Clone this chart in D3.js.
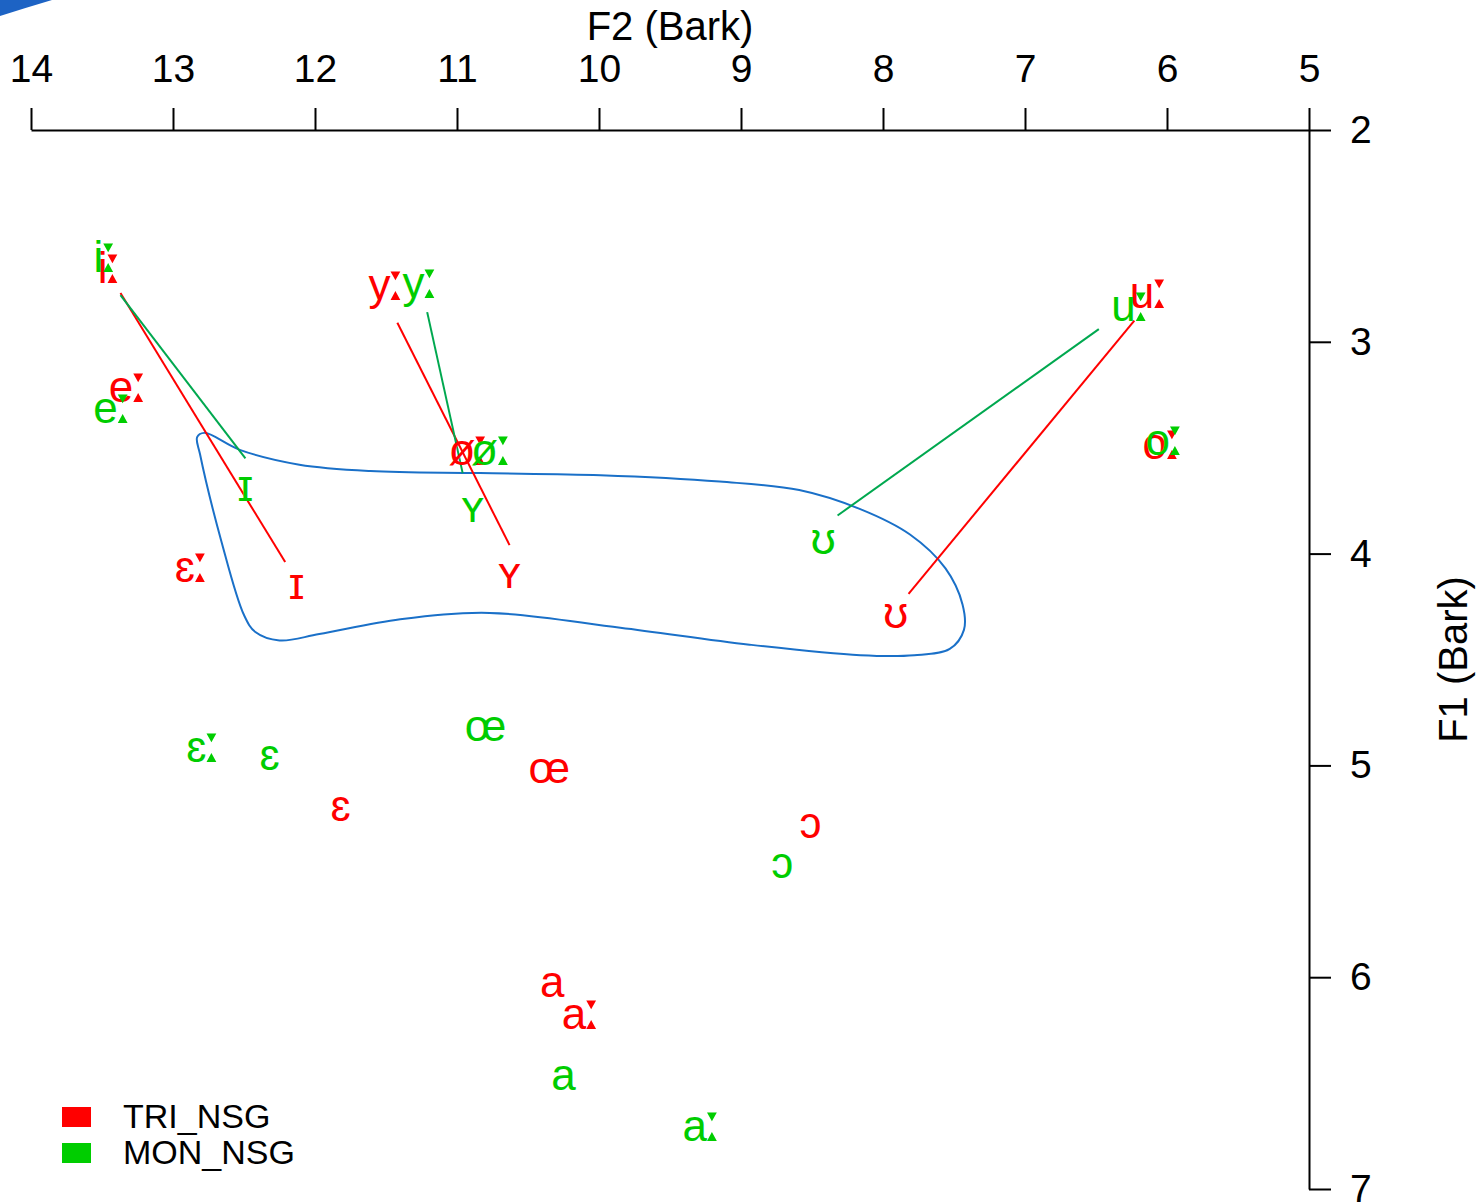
<!DOCTYPE html>
<html>
<head>
<meta charset="utf-8">
<script src="https://cdn.jsdelivr.net/npm/d3@7"></script>
<style>
  html, body { margin: 0; padding: 0; background: #fff; }
  svg { display: block; }
  text { font-family: "Liberation Sans", Arial, "DejaVu Sans", sans-serif; }
</style>
</head>
<body>
<div id="chart"></div>
<script>
// ---- data (Bark) ----
const vowels = ["iː", "eː", "ɛː", "ɪ", "yː", "øː", "ʏ", "ʊ", "uː", "oː", "ɛ", "œ", "ɔ", "a", "aː"];

const triF2 = [13.44, 13.31, 12.86, 12.13, 11.49, 10.91, 10.63, 7.91, 6.12, 6.03, 11.82, 10.35, 8.51, 10.33, 10.12];
const triF1 = [2.65, 3.21, 4.06, 4.14, 2.73, 3.51, 4.09, 4.28, 2.77, 3.48, 5.19, 5.01, 5.27, 6.02, 6.17];

const monF2 = [13.47, 13.42, 12.78, 12.49, 11.25, 10.75, 10.89, 8.42, 6.25, 6.01, 12.32, 10.80, 8.71, 10.25, 9.27];
const monF1 = [2.60, 3.31, 4.91, 3.68, 2.72, 3.51, 3.78, 3.93, 2.83, 3.46, 4.95, 4.81, 5.46, 6.46, 6.70];

// long -> short trajectories [F2 start, F1 start, F2 end, F1 end]
const triLines = [
  [13.37, 2.77, 12.21, 4.04],
  [11.42, 2.91, 10.63, 3.96],
  [6.23, 2.90, 7.82, 4.19]
];
const monLines = [
  [13.37, 2.78, 12.49, 3.55],
  [11.21, 2.86, 10.96, 3.62],
  [6.48, 2.94, 8.32, 3.82]
];

// outline around the short lax vowels
const hullF2 = [12.81, 12.83, 12.78, 12.53, 12.11, 11.61, 10.84, 9.99, 9.15, 8.59, 8.16, 7.81, 7.56, 7.44, 7.43, 7.53, 7.78, 8.16, 8.94, 9.85, 10.77, 11.40, 11.97, 12.25, 12.42, 12.50, 12.66];
const hullF1 = [3.53, 3.45, 3.43, 3.51, 3.58, 3.61, 3.62, 3.63, 3.66, 3.70, 3.79, 3.91, 4.07, 4.24, 4.36, 4.45, 4.48, 4.48, 4.43, 4.35, 4.28, 4.31, 4.38, 4.41, 4.37, 4.29, 3.94];

const xTicks = [14, 13, 12, 11, 10, 9, 8, 7, 6, 5];
const yTicks = [2, 3, 4, 5, 6, 7];

const groups = [
  { name: "TRI_NSG", color: "#ff0000", line: "#ff0000", f2: triF2, f1: triF1, lines: triLines },
  { name: "MON_NSG", color: "#00cd00", line: "#00a84f", f2: monF2, f1: monF1, lines: monLines }
];

// ---- layout ----
const W = 1478, H = 1204;
const margin = { left: 31, right: 169, top: 130, bottom: 15 };

const x = d3.scaleLinear().domain([14, 5]).range([margin.left, W - margin.right]);
const y = d3.scaleLinear().domain([2, 7]).range([margin.top, H - margin.bottom]);

const svg = d3.select("#chart").append("svg")
  .attr("width", W)
  .attr("height", H);

// stray blue corner from the source figure
svg.append("path")
  .attr("d", "M0,0 L52,0 Q25,8 0,16 Z")
  .attr("fill", "#1d63c4");

// axes
const axisX = d3.axisTop(x)
  .tickValues(xTicks)
  .tickSize(22)
  .tickSizeOuter(0)
  .tickPadding(26)
  .tickFormat(d3.format("d"));

const axisY = d3.axisRight(y)
  .tickValues(yTicks)
  .tickSize(22)
  .tickSizeOuter(0)
  .tickPadding(19)
  .tickFormat(d3.format("d"));

const gx = svg.append("g")
  .attr("transform", `translate(0,${margin.top})`)
  .call(axisX);

const gy = svg.append("g")
  .attr("transform", `translate(${W - margin.right},0)`)
  .call(axisY);

[gx, gy].forEach(g => {
  g.selectAll("path, line").attr("stroke", "#000").attr("stroke-width", 2);
  g.selectAll("text").attr("font-size", 39).attr("fill", "#000")
    .style("font-family", "'Liberation Sans', Arial, sans-serif");
});
gy.selectAll("text").attr("text-anchor", "start");

svg.append("text")
  .attr("x", (x(14) + x(5)) / 2)
  .attr("y", 40)
  .attr("text-anchor", "middle")
  .attr("font-size", 40)
  .text("F2 (Bark)");

svg.append("text")
  .attr("transform", `translate(1467,${(y(2) + y(7)) / 2}) rotate(-90)`)
  .attr("text-anchor", "middle")
  .attr("font-size", 40)
  .text("F1  (Bark)");

// hull
const hullPts = hullF2.map((d, i) => [x(d), y(hullF1[i])]);
svg.append("path")
  .attr("d", d3.line().curve(d3.curveCatmullRomClosed.alpha(0.5))(hullPts))
  .attr("fill", "none")
  .attr("stroke", "#1a70c8")
  .attr("stroke-width", 2);

// trajectories
groups.forEach(g => {
  svg.append("g").selectAll("line")
    .data(g.lines)
    .enter().append("line")
    .attr("x1", d => x(d[0]))
    .attr("y1", d => y(d[1]))
    .attr("x2", d => x(d[2]))
    .attr("y2", d => y(d[3]))
    .attr("stroke", g.line)
    .attr("stroke-width", 2);
});

// vowel labels (red first, green on top); length mark drawn in DejaVu for the triangle shape
groups.forEach(g => {
  const t = svg.append("g").selectAll("text")
    .data(vowels)
    .enter().append("text")
    .attr("x", (d, i) => x(g.f2[i]))
    .attr("y", (d, i) => y(g.f1[i]))
    .attr("dy", "0.35em")
    .attr("text-anchor", "middle")
    .attr("font-size", 44)
    .attr("fill", g.color);
  t.append("tspan").text(d => d.replace("ː", ""));
  t.filter(d => d.includes("ː"))
    .append("tspan")
    .style("font-family", "'DejaVu Sans', sans-serif")
    .attr("font-size", 56)
    .attr("dx", -3)
    .text("ː");
});

// legend
const legend = svg.append("g").attr("transform", "translate(62,1107)");
const li = legend.selectAll("g")
  .data(groups)
  .enter().append("g")
  .attr("transform", (d, i) => `translate(0,${i * 36})`);
li.append("rect")
  .attr("width", 29).attr("height", 20)
  .attr("fill", d => d.color);
li.append("text")
  .attr("x", 61).attr("y", 21)
  .attr("font-size", 34)
  .attr("fill", "#000")
  .text(d => d.name);
</script>
</body>
</html>
